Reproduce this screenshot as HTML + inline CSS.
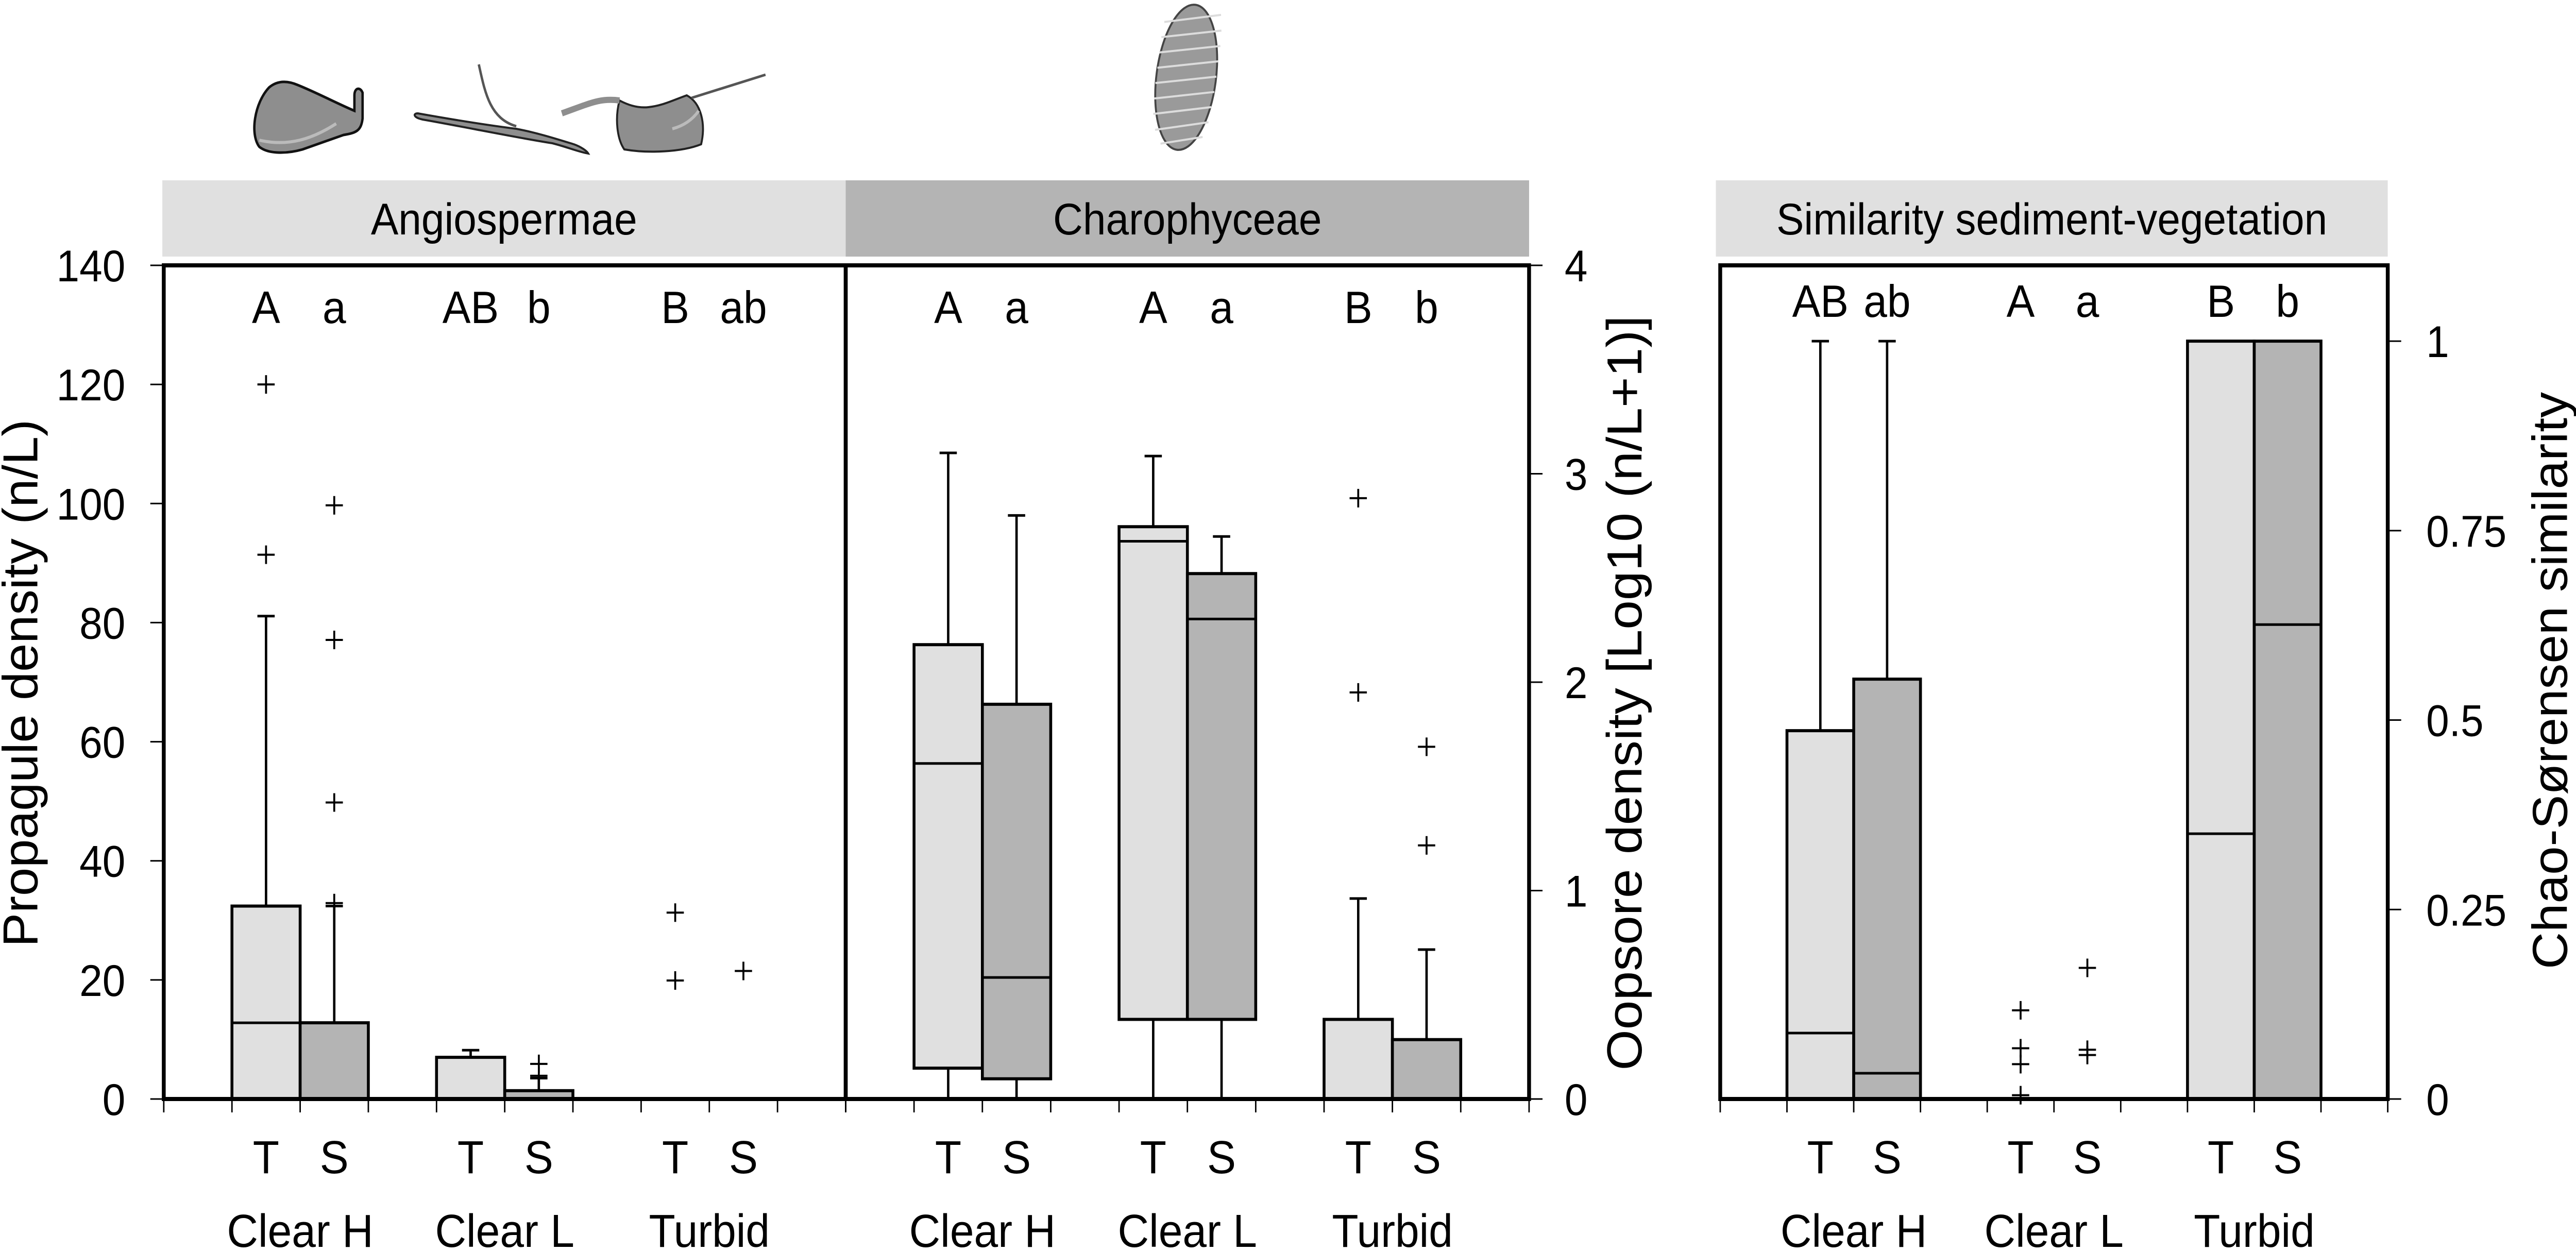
<!DOCTYPE html>
<html><head><meta charset="utf-8">
<style>
html,body{margin:0;padding:0;background:#fff;width:100vw;height:100vh;overflow:hidden;}
svg{display:block;width:100vw;height:100vh;font-family:"Liberation Sans",Arial,sans-serif;}
</style></head>
<body>
<svg id="chart" xmlns="http://www.w3.org/2000/svg" width="100%" height="100%" viewBox="0 0 5364 2428" preserveAspectRatio="none">
  <g>
    <g>
      <path d="M560,170 C530,200 520,260 540,285 C560,300 600,298 630,290 C660,280 690,270 715,262 C740,258 752,255 755,230 L755,180 C750,168 738,170 738,185 L738,215 C700,200 660,180 620,165 C595,155 575,158 560,170 Z" fill="#8e8e8e" stroke="#111" stroke-width="5"/>
      <path d="M540,272 C600,285 650,270 700,240" fill="none" stroke="#bbb" stroke-width="6"/>
    </g>
    <g>
      <path d="M997,125 C1010,180 1020,230 1075,245" fill="none" stroke="#555" stroke-width="5"/>
      <path d="M870,220 C900,225 990,240 1075,250 C1120,258 1160,270 1195,280 C1210,285 1222,293 1225,298 C1205,295 1180,285 1150,278 C1080,268 960,245 880,232 C860,228 860,220 870,220 Z" fill="#8e8e8e" stroke="#222" stroke-width="4"/>
    </g>
    <g>
      <path d="M1290,195 C1310,205 1330,210 1350,208 C1380,205 1400,195 1430,185 C1460,200 1470,240 1460,280 C1420,295 1350,298 1300,290 C1285,270 1280,230 1290,195 Z" fill="#8e8e8e" stroke="#222" stroke-width="4"/>
      <path d="M1290,195 C1250,190 1230,200 1170,220" fill="none" stroke="#8e8e8e" stroke-width="12"/>
      <path d="M1440,190 L1594,145" fill="none" stroke="#555" stroke-width="5"/>
      <path d="M1400,250 C1420,245 1440,235 1455,215" fill="none" stroke="#bbb" stroke-width="6"/>
    </g>
    <g transform="translate(2470,150) rotate(8)">
      <ellipse cx="0" cy="0" rx="62" ry="142" fill="#9a9a9a" stroke="#444" stroke-width="4"/>
      <path d="M-60,-100 L55,-130 M-62,-70 L60,-100 M-62,-40 L62,-70 M-62,-10 L62,-40 M-62,20 L62,-10 M-60,50 L62,20 M-58,80 L60,50 M-50,110 L58,80 M-35,135 L50,110" stroke="#dcdcdc" stroke-width="4" fill="none"/>
    </g>
  </g>
  <g id="plots"></g>
</svg>
<script>
// Panel 1: Angiospermae propagule density (n/L) — order: ClearH-T, ClearH-S, ClearL-T, ClearL-S, Turbid-T, Turbid-S
const angioQ1 = [0, 0, 0, 0, 0, 0];
const angioMed = [12.8, 12.8, 0, 0, 0, 0];
const angioQ3 = [32.4, 12.8, 7.0, 1.4, 0, 0];
const angioWhi = [81.1, 32.4, 8.2, 3.5, 0, 0];
const angioWlo = [0, 0, 0, 0, 0, 0];
const angioOut = [[120, 91.4], [99.7, 77.1, 49.8, 32.9], [], [5.9, 3.9], [31.3, 19.9], [21.5]];
// Panel 2: Charophyceae oospore density log10
const charoQ1 = [0.148, 0.097, 0.382, 0.382, 0, 0];
const charoMed = [1.61, 0.583, 2.676, 2.303, 0, 0];
const charoQ3 = [2.18, 1.894, 2.746, 2.521, 0.382, 0.285];
const charoWhi = [3.10, 2.80, 3.085, 2.699, 0.962, 0.717];
const charoWlo = [0, 0, 0, 0, 0, 0];
const charoOut = [[], [], [], [], [2.883, 1.951], [1.690, 1.217]];
// Panel 3: Chao-Sorensen similarity
const simQ1 = [0, 0, 0, 0, 0, 0];
const simMed = [0.087, 0.034, 0, 0, 0.35, 0.626];
const simQ3 = [0.486, 0.554, 0, 0, 1, 1];
const simWhi = [1, 1, 0, 0, 1, 1];
const simWlo = [0, 0, 0, 0, 0, 0];
const simOut = [[], [], [0.117, 0.067, 0.046, 0.005], [0.173, 0.065, 0.058], [], []];
// Labels
const groups = ["Clear H", "Clear L", "Turbid"];
const subs = ["T", "S"];
const angioLetters = ["A", "a", "AB", "b", "B", "ab"];
const charoLetters = ["A", "a", "A", "a", "B", "b"];
const simLetters = ["AB", "ab", "A", "a", "B", "b"];
const angioTicks = [0, 20, 40, 60, 80, 100, 120, 140];
const charoTicks = [0, 1, 2, 3, 4];
const simTicks = [0, 0.25, 0.5, 0.75, 1];

const NS = "http://www.w3.org/2000/svg";
const root = document.getElementById("plots");
function mk(tag, attrs, parent) {
  const e = document.createElementNS(NS, tag);
  for (const k in attrs) e.setAttribute(k, attrs[k]);
  (parent || root).appendChild(e);
  return e;
}
const Y0 = 2133, YT = 515;
const fills = ["#e0e0e0", "#b4b4b4"];

function panel(p) {
  const g = mk("g", {});
  
  
  const slot = (p.x1 - p.x0) / 10;
  const ys = v => Y0 - v / p.vmax * (Y0 - YT);
  const hd = mk("rect", {x: p.hx0, y: 350, width: p.hx1 - p.hx0, height: 148, fill: p.hfill}, g);
  
  
  const ht = mk("text", {x: (p.hx0 + p.hx1) / 2, y: 455, "font-size": 86, "text-anchor": "middle", fill: "#000"}, g);
  ht.textContent = p.title;
  
  
  for (let i = 0; i < 6; i++) {
    const gi = Math.floor(i / 2), si = i % 2;
    const bx = p.x0 + slot * (1 + gi * 3 + si);
    const cx = bx + slot / 2;
    const bg = mk("g", {}, g);
    
    
    if (p.whi[i] > p.q3[i]) {
      mk("line", {x1: cx, x2: cx, y1: ys(p.q3[i]), y2: ys(p.whi[i]), stroke: "#000", "stroke-width": 5}, bg);
      mk("line", {x1: cx - 18, x2: cx + 18, y1: ys(p.whi[i]), y2: ys(p.whi[i]), stroke: "#000", "stroke-width": 5}, bg);
    }
    if (p.q1[i] > p.wlo[i]) {
      mk("line", {x1: cx, x2: cx, y1: ys(p.q1[i]), y2: ys(p.wlo[i]), stroke: "#000", "stroke-width": 5}, bg);
    }
    if (p.q3[i] > p.q1[i]) {
      mk("rect", {x: bx, y: ys(p.q3[i]), width: slot, height: ys(p.q1[i]) - ys(p.q3[i]), fill: fills[si], stroke: "#000", "stroke-width": 6}, bg);
      if (p.med[i] > p.q1[i] && p.med[i] < p.q3[i]) {
        mk("line", {x1: bx, x2: bx + slot, y1: ys(p.med[i]), y2: ys(p.med[i]), stroke: "#000", "stroke-width": 5}, bg);
      }
    }
    p.out[i].forEach(v => {
      const o = mk("path", {d: `M${cx - 18},${ys(v)}h36M${cx},${ys(v) - 18}v36`, stroke: "#000", "stroke-width": 4, fill: "none"}, bg);
      
      
    });
    const lt = mk("text", {x: cx, y: p.ly, "font-size": 88, "text-anchor": "middle"}, g);
    lt.textContent = p.letters[i];
    
    
    const st = mk("text", {x: cx, y: 2277, "font-size": 90, "text-anchor": "middle"}, g);
    st.textContent = subs[si];
    
    
    if (si === 0) {
      const gt = mk("text", {x: bx + slot, y: 2420, "font-size": 90, "text-anchor": "middle"}, g);
      gt.textContent = groups[gi];
      
      
    }
  }
  for (let k = 0; k <= 10; k++) {
    const x = p.x0 + slot * k;
    mk("line", {x1: x, x2: x, y1: Y0, y2: Y0 + 26, stroke: "#000", "stroke-width": 3}, g);
  }
  const fr = mk("rect", {x: p.x0, y: YT, width: p.x1 - p.x0, height: Y0 - YT, fill: "none", stroke: "#000", "stroke-width": 8}, g);
  
  
  p.ticks.forEach(v => {
    const y = ys(v);
    if (p.side === "left") {
      mk("line", {x1: p.x0 - 28, x2: p.x0, y1: y, y2: y, stroke: "#000", "stroke-width": 3}, g);
      const t = mk("text", {x: p.x0 - 80, y: y + 31, "font-size": 86, "text-anchor": "end"}, g);
      t.textContent = v;
      
      
    } else {
      mk("line", {x1: p.x1, x2: p.x1 + 28, y1: y, y2: y, stroke: "#000", "stroke-width": 3}, g);
      const t = mk("text", {x: p.x1 + p.labOff, y: y + 31, "font-size": 86, "text-anchor": "start"}, g);
      t.textContent = v;
      
      
    }
  });
  const at = mk("text", {x: 0, y: 0, "font-size": 103, "text-anchor": "middle", textLength: p.atLen, lengthAdjust: "spacingAndGlyphs", transform: `translate(${p.atx},${p.aty}) rotate(-90)`}, g);
  at.textContent = p.axisTitle;
  
  
}

panel({name: "angiospermae-panel", title: "Angiospermae", x0: 341, x1: 1761, hx0: 338, hx1: 1761, hfill: "#e0e0e0",
  vmax: 140, q1: angioQ1, med: angioMed, q3: angioQ3, whi: angioWhi, wlo: angioWlo, out: angioOut,
  letters: angioLetters, ly: 627, ticks: angioTicks, side: "left", axisTitle: "Propagule density (n/L)", atx: 78, aty: 1326, atLen: 1024});
panel({name: "charophyceae-panel", title: "Charophyceae", x0: 1761, x1: 3184, hx0: 1761, hx1: 3184, hfill: "#b4b4b4",
  vmax: 4, q1: charoQ1, med: charoMed, q3: charoQ3, whi: charoWhi, wlo: charoWlo, out: charoOut,
  letters: charoLetters, ly: 627, ticks: charoTicks, side: "right", labOff: 74, axisTitle: "Oopsore density [Log10 (n/L+1)]", atx: 3418, aty: 1345, atLen: 1465});
panel({name: "similarity-panel", title: "Similarity sediment-vegetation", x0: 3582, x1: 4972, hx0: 3573, hx1: 4972, hfill: "#e0e0e0",
  vmax: 1.1, q1: simQ1, med: simMed, q3: simQ3, whi: simWhi, wlo: simWlo, out: simOut,
  letters: simLetters, ly: 615, ticks: simTicks, side: "right", labOff: 80, axisTitle: "Chao-Sørensen similarity", atx: 5345, aty: 1321, atLen: 1120});
</script>
</body></html>
